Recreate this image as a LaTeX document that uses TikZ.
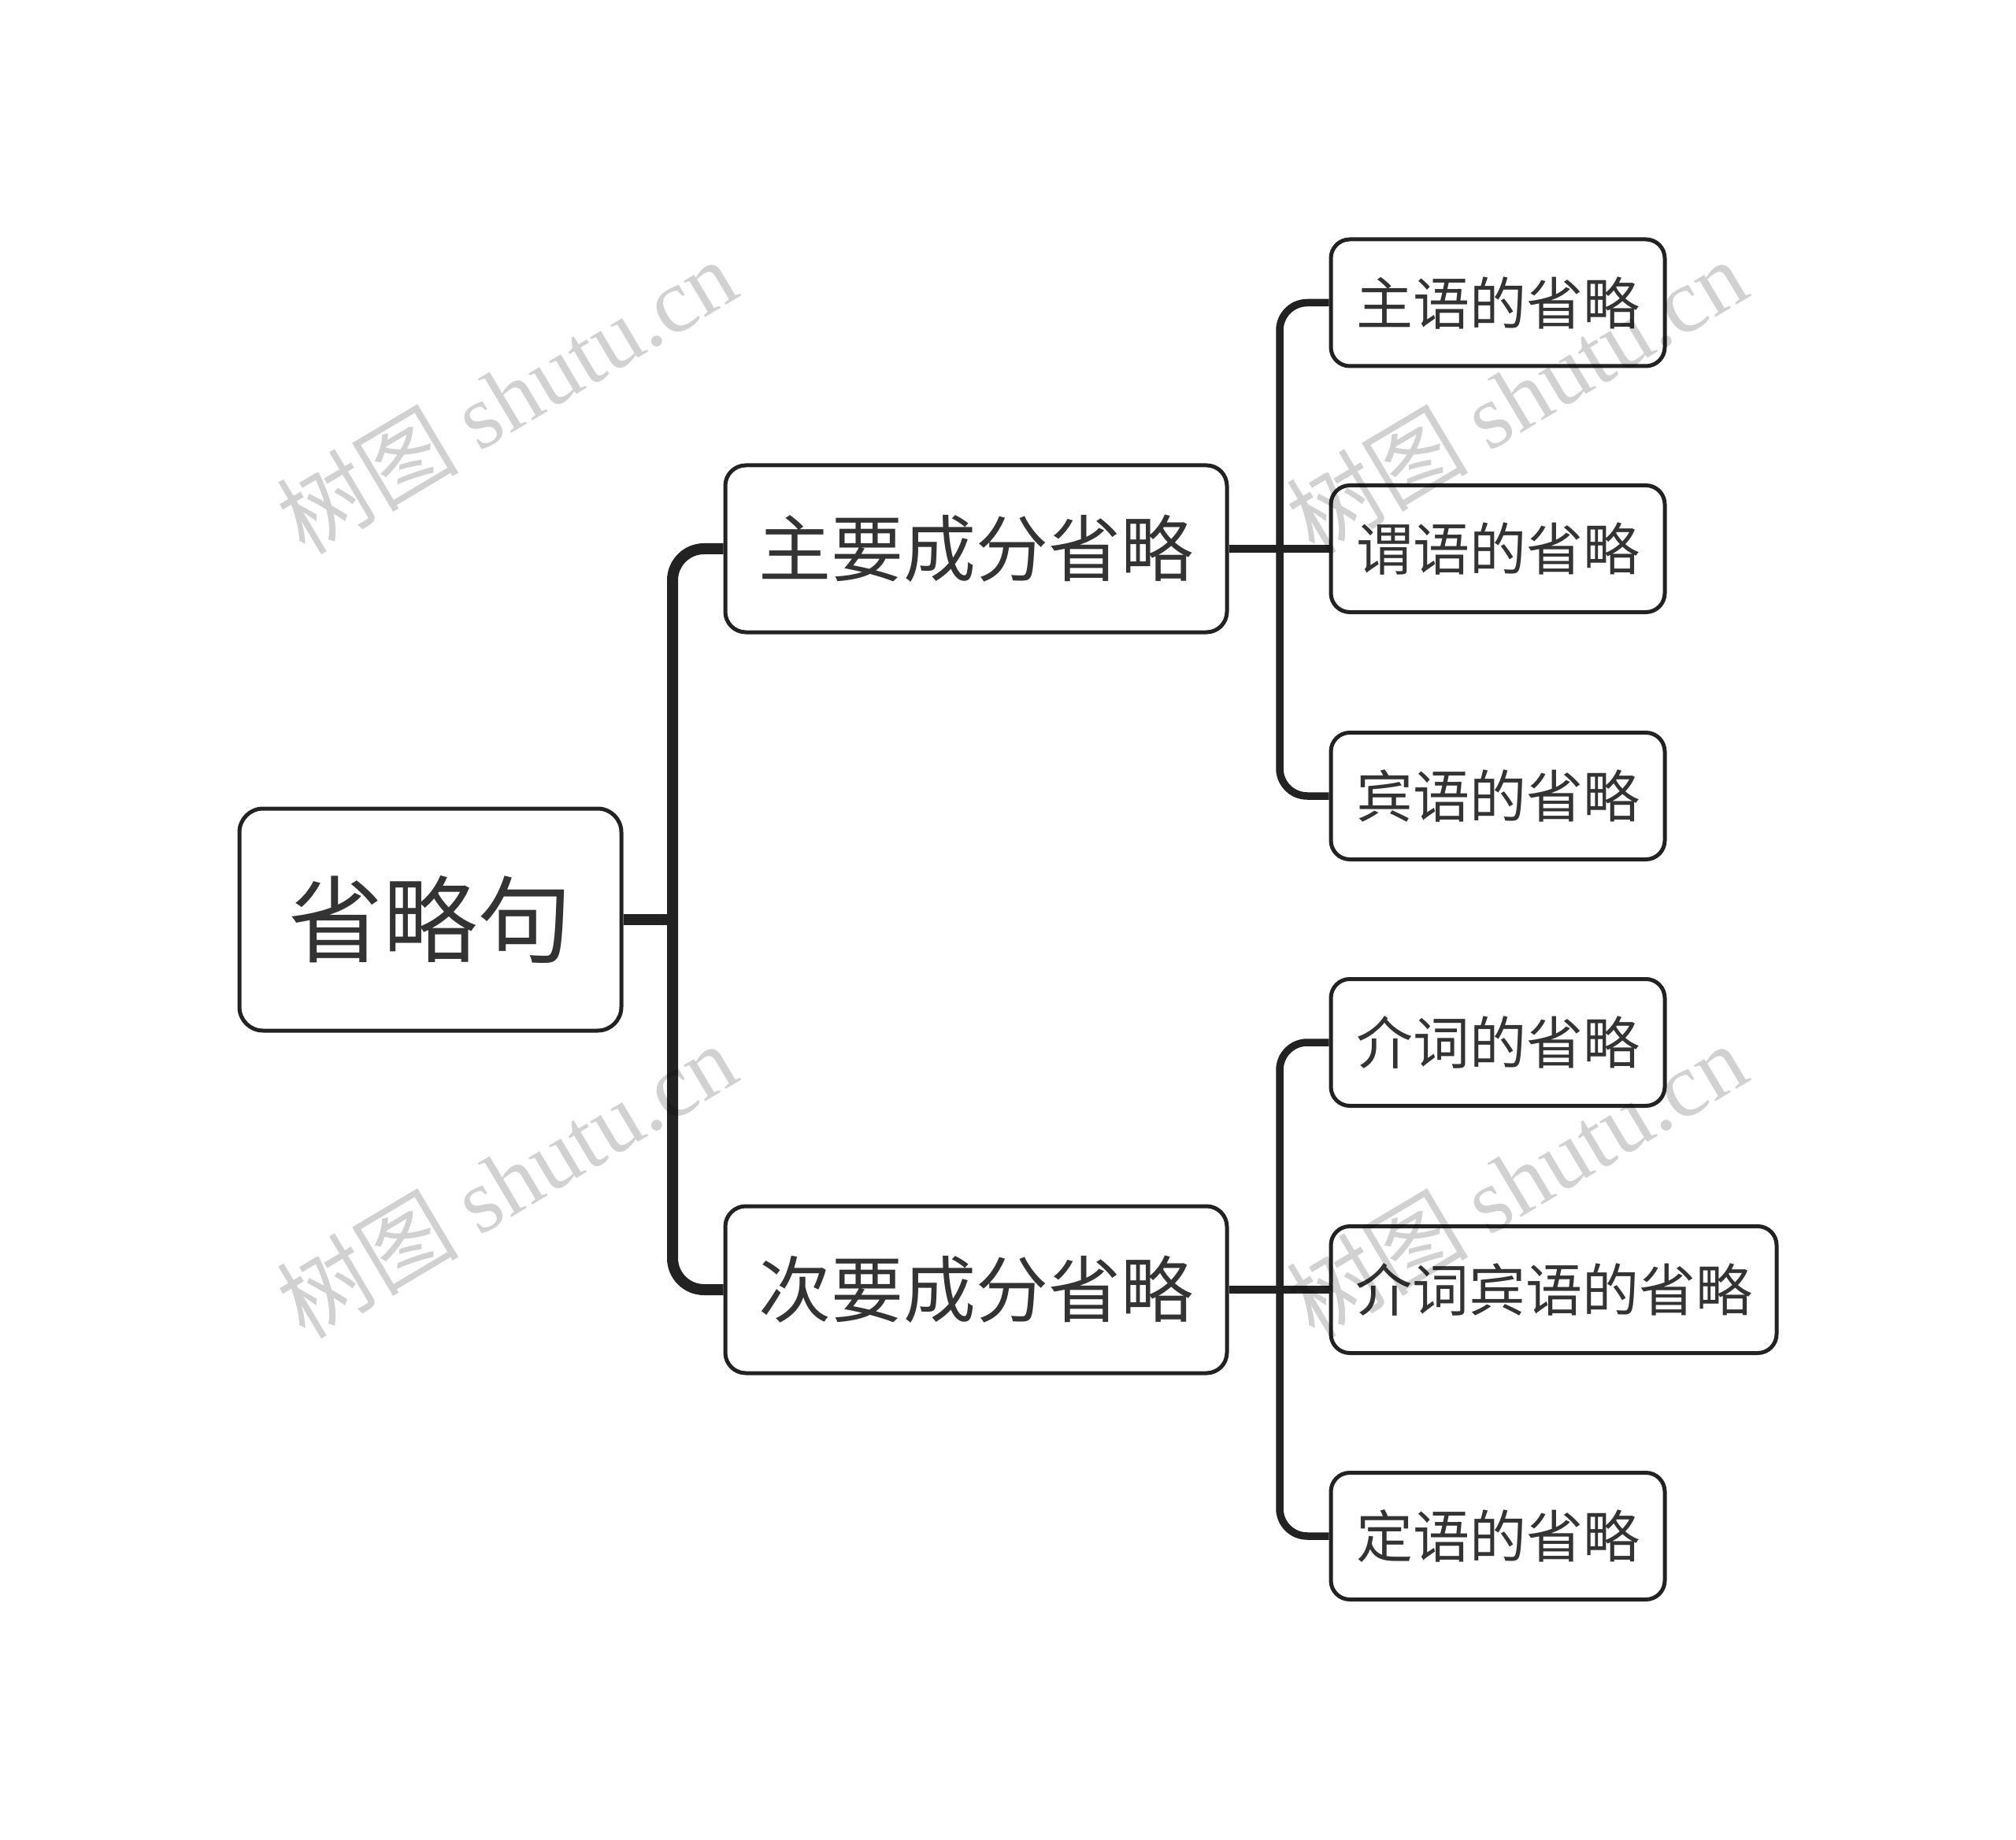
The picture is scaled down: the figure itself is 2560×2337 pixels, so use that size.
\documentclass[tikz,border=0pt]{standalone}
\usepackage{fontspec}
\newfontfamily\cjk{Noto Sans CJK SC}
\newfontfamily\wmserif{Liberation Serif}
\definecolor{ink}{HTML}{333333}
\definecolor{linec}{HTML}{222222}
\begin{document}
\begin{tikzpicture}[x=0.5pt,y=-0.5pt,
  box/.style={draw=linec, line width=2.5pt, fill=white, text=ink, inner sep=0pt, align=center},
  rootbox/.style={box, minimum width=242.5pt, minimum height=141pt, rounded corners=15pt, font=\cjk\fontsize{60pt}{70pt}\selectfont},
  midbox/.style={box, minimum width=318.5pt, minimum height=106pt, rounded corners=13pt, font=\cjk\fontsize{46pt}{54pt}\selectfont},
  leafbox/.style={box, minimum width=212pt, minimum height=80.5pt, rounded corners=12pt, font=\cjk\fontsize{36pt}{42pt}\selectfont},
  thick conn/.style={draw=linec, line width=7pt, rounded corners=20pt},
  thin conn/.style={draw=linec, line width=4.75pt, rounded corners=17.5pt},
  wm/.style={rotate=30.8, text=black, text opacity=0.18, inner sep=0pt, font=\fontsize{58pt}{66pt}\selectfont}
]
\useasboundingbox (0,0) rectangle (2560,2337);
\fill[white] (0,0) rectangle (2560,2337);

\coordinate (j1) at (854,1168);
\coordinate (j2) at (1625,697);
\coordinate (j3) at (1625,1638);

\node[rootbox] (root) at (546.5,1168) {省略句};
\node[midbox] (m1) at (1239.5,697) {主要成分省略};
\node[midbox] (m2) at (1239.5,1638) {次要成分省略};

\node[leafbox] (l1) at (1902,384.5) {主语的省略};
\node[leafbox] (l2) at (1902,697) {谓语的省略};
\node[leafbox] (l3) at (1902,1011) {宾语的省略};
\node[leafbox] (l4) at (1902,1324) {介词的省略};
\node[leafbox, minimum width=283pt] (l5) at (1973,1638) {介词宾语的省略};
\node[leafbox] (l6) at (1902,1951) {定语的省略};

\draw[thick conn] (root.east) -- (j1);
\draw[thick conn] (m1.west) -| (j1);
\draw[thick conn] (m2.west) -| (j1);

\draw[thin conn] (m1.east) -- (l2.west);
\draw[thin conn] (l1.west) -| (j2);
\draw[thin conn] (l3.west) -| (j2);

\draw[thin conn] (m2.east) -- (l5.west);
\draw[thin conn] (l4.west) -| (j3);
\draw[thin conn] (l6.west) -| (j3);

\node[wm] (w1) at (643,503) {\cjk 树图 \wmserif shutu.cn};
\node[wm] (w2) at (1925,503) {\cjk 树图 \wmserif shutu.cn};
\node[wm] (w3) at (643,1499) {\cjk 树图 \wmserif shutu.cn};
\node[wm] (w4) at (1925,1499) {\cjk 树图 \wmserif shutu.cn};
\end{tikzpicture}
\end{document}
